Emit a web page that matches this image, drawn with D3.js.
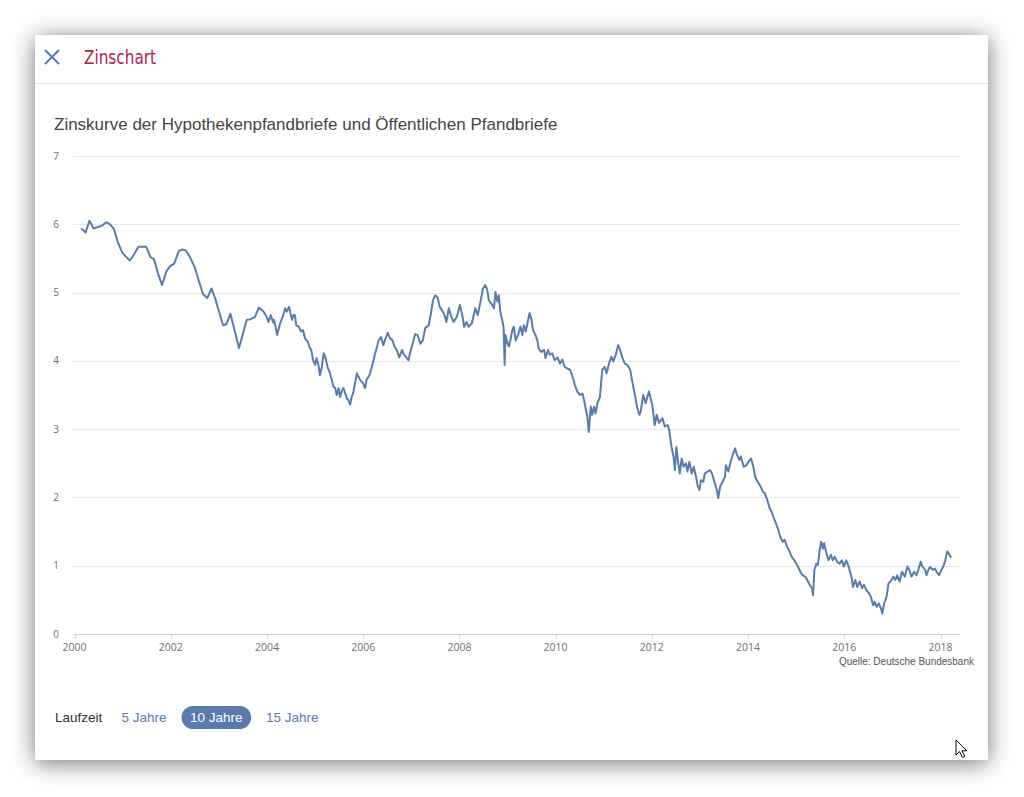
<!DOCTYPE html>
<html>
<head>
<meta charset="utf-8">
<script src="https://cdn.jsdelivr.net/npm/d3@7"></script>
<style>
body { margin: 0; width: 1024px; height: 797px; background: #fff; overflow: hidden; position: relative; }
#card { position: absolute; left: 35px; top: 35px; width: 953px; height: 725px; background: #fff; box-shadow: 0 3px 22px rgba(0,0,0,0.55); }
svg { position: absolute; left: 0; top: 0; }
</style>
</head>
<body>
<div id="card"></div>
<script>
// 10 Jahre Pfandbriefe, [Jahr, Zins %]
var rates2000to2003 = [
	[2000.14,5.94],[2000.23,5.88],[2000.31,6.05],[2000.40,5.94],[2000.49,5.96],[2000.57,5.98],[2000.66,6.03],[2000.74,6.00],
	[2000.82,5.93],[2000.90,5.74],[2000.99,5.59],[2001.06,5.53],[2001.15,5.47],[2001.23,5.55],[2001.33,5.67],[2001.49,5.67],
	[2001.58,5.52],[2001.65,5.49],[2001.74,5.27],[2001.82,5.11],[2001.91,5.31],[2001.99,5.39],[2002.07,5.42],[2002.17,5.61],
	[2002.24,5.63],[2002.31,5.62],[2002.40,5.52],[2002.50,5.37],[2002.58,5.18],[2002.67,4.98],[2002.76,4.92],[2002.85,5.06],
	[2002.93,4.90],[2003.00,4.73],[2003.09,4.52],[2003.16,4.54],[2003.24,4.69],[2003.33,4.44],[2003.42,4.19],[2003.49,4.37],
	[2003.58,4.60],[2003.66,4.61],[2003.75,4.64],[2003.83,4.78],[2003.92,4.73]
];
var rates2004to2007 = [
	[2003.99,4.65],[2004.03,4.57],[2004.08,4.67],[2004.13,4.56],[2004.15,4.60],[2004.21,4.38],[2004.27,4.54],[2004.33,4.65],
	[2004.38,4.77],[2004.41,4.72],[2004.46,4.79],[2004.52,4.60],[2004.55,4.67],[2004.58,4.67],[2004.61,4.52],[2004.66,4.50],
	[2004.71,4.43],[2004.75,4.45],[2004.79,4.33],[2004.85,4.28],[2004.88,4.21],[2004.92,4.16],[2004.96,4.01],[2005.00,3.94],
	[2005.03,4.04],[2005.07,3.94],[2005.10,3.79],[2005.14,3.91],[2005.18,4.11],[2005.22,4.04],[2005.26,3.91],[2005.30,3.84],
	[2005.35,3.72],[2005.38,3.62],[2005.42,3.60],[2005.45,3.50],[2005.49,3.60],[2005.52,3.47],[2005.56,3.57],[2005.59,3.60],
	[2005.63,3.52],[2005.66,3.45],[2005.69,3.43],[2005.73,3.36],[2005.76,3.47],[2005.80,3.55],[2005.83,3.67],[2005.87,3.82],
	[2005.90,3.77],[2005.94,3.72],[2005.97,3.69],[2006.00,3.67],[2006.04,3.60],[2006.07,3.72],[2006.13,3.79],[2006.18,3.91],
	[2006.25,4.11],[2006.29,4.21],[2006.32,4.30],[2006.37,4.35],[2006.42,4.23],[2006.46,4.32],[2006.51,4.41],[2006.56,4.33],
	[2006.61,4.30],[2006.65,4.21],[2006.70,4.16],[2006.75,4.05],[2006.81,4.16],[2006.84,4.10],[2006.90,4.05],[2006.94,4.01],
	[2006.99,4.16],[2007.04,4.28],[2007.08,4.39],[2007.13,4.38],[2007.19,4.25],[2007.24,4.30],[2007.29,4.48],[2007.36,4.52],
	[2007.41,4.70],[2007.45,4.89],[2007.50,4.96],[2007.55,4.92],[2007.59,4.79],[2007.64,4.74],[2007.69,4.67],[2007.73,4.57],
	[2007.78,4.77],[2007.83,4.65],[2007.88,4.57],[2007.95,4.65]
];
var rates2008to2011 = [
	[2008.01,4.82],[2008.06,4.67],[2008.10,4.50],[2008.15,4.57],[2008.19,4.50],[2008.26,4.55],[2008.33,4.77],[2008.38,4.67],
	[2008.44,4.87],[2008.49,5.06],[2008.54,5.11],[2008.58,5.04],[2008.61,4.89],[2008.68,4.82],[2008.72,4.77],[2008.75,5.01],
	[2008.79,4.87],[2008.82,4.96],[2008.85,4.72],[2008.89,4.60],[2008.92,4.48],[2008.94,3.94],[2008.96,4.38],[2008.99,4.28],
	[2009.03,4.21],[2009.06,4.30],[2009.10,4.45],[2009.13,4.50],[2009.17,4.30],[2009.22,4.38],[2009.27,4.50],[2009.31,4.38],
	[2009.34,4.52],[2009.38,4.43],[2009.42,4.57],[2009.46,4.70],[2009.50,4.60],[2009.53,4.45],[2009.58,4.38],[2009.62,4.30],
	[2009.65,4.18],[2009.70,4.13],[2009.76,4.16],[2009.79,4.04],[2009.84,4.16],[2009.88,4.09],[2009.93,4.11],[2009.98,4.01],
	[2010.04,4.05],[2010.09,3.96],[2010.14,4.02],[2010.19,3.91],[2010.24,3.89],[2010.30,3.87],[2010.35,3.77],[2010.40,3.65],
	[2010.45,3.55],[2010.51,3.50],[2010.56,3.52],[2010.59,3.43],[2010.63,3.28],[2010.66,3.18],[2010.69,2.96],[2010.73,3.33],
	[2010.76,3.21],[2010.80,3.33],[2010.83,3.23],[2010.87,3.38],[2010.92,3.47],[2010.97,3.87],[2011.02,3.91],[2011.06,3.82],
	[2011.11,3.96],[2011.16,4.06],[2011.20,3.99],[2011.25,4.09],[2011.30,4.23],[2011.34,4.16],[2011.39,4.04],[2011.44,3.96],
	[2011.49,3.94],[2011.55,3.87],[2011.60,3.67],[2011.65,3.50],[2011.69,3.33],[2011.74,3.21],[2011.77,3.26],[2011.82,3.50],
	[2011.87,3.38],[2011.94,3.55]
];
var rates2012to2018 = [
	[2012.01,3.35],[2012.06,3.06],[2012.10,3.21],[2012.15,3.09],[2012.22,3.16],[2012.27,3.04],[2012.33,3.06],[2012.36,2.99],
	[2012.41,2.74],[2012.45,2.60],[2012.48,2.40],[2012.51,2.74],[2012.55,2.50],[2012.58,2.35],[2012.62,2.57],[2012.66,2.45],
	[2012.71,2.50],[2012.74,2.38],[2012.78,2.52],[2012.83,2.35],[2012.87,2.45],[2012.92,2.30],[2012.95,2.18],[2012.99,2.11],
	[2013.02,2.25],[2013.07,2.23],[2013.10,2.35],[2013.16,2.38],[2013.21,2.40],[2013.25,2.35],[2013.30,2.23],[2013.35,2.11],
	[2013.38,1.99],[2013.42,2.16],[2013.47,2.23],[2013.52,2.30],[2013.54,2.47],[2013.59,2.38],[2013.63,2.50],[2013.68,2.62],
	[2013.73,2.72],[2013.77,2.62],[2013.82,2.55],[2013.85,2.60],[2013.91,2.45],[2013.96,2.47],[2014.01,2.52],[2014.06,2.57],
	[2014.11,2.45],[2014.15,2.30],[2014.20,2.23],[2014.26,2.16],[2014.31,2.08],[2014.35,2.06],[2014.40,1.96],[2014.45,1.84],
	[2014.49,1.79],[2014.54,1.69],[2014.58,1.62],[2014.63,1.52],[2014.67,1.42],[2014.72,1.35],[2014.76,1.38],[2014.81,1.28],
	[2014.86,1.21],[2014.91,1.13],[2014.96,1.08],[2015.02,1.01],[2015.07,0.94],[2015.10,0.89],[2015.14,0.86],[2015.19,0.84],
	[2015.23,0.79],[2015.28,0.72],[2015.33,0.67],[2015.35,0.57],[2015.38,0.94],[2015.42,1.03],[2015.45,1.01],[2015.49,1.23],
	[2015.52,1.35],[2015.56,1.25],[2015.58,1.33],[2015.63,1.18],[2015.67,1.08],[2015.72,1.16],[2015.76,1.08],[2015.80,1.13],
	[2015.85,1.06],[2015.90,1.03],[2015.95,1.08],[2015.99,0.99],[2016.04,1.08],[2016.09,0.99],[2016.15,0.84],[2016.18,0.69],
	[2016.23,0.79],[2016.27,0.69],[2016.32,0.77],[2016.37,0.67],[2016.41,0.72],[2016.46,0.64],[2016.51,0.60],[2016.55,0.55],
	[2016.60,0.42],[2016.63,0.47],[2016.67,0.40],[2016.72,0.45],[2016.76,0.38],[2016.79,0.30],[2016.83,0.45],[2016.88,0.55],
	[2016.92,0.74],[2016.98,0.79],[2017.02,0.84],[2017.06,0.79],[2017.10,0.86],[2017.15,0.77],[2017.20,0.91],[2017.26,0.84],
	[2017.31,0.99],[2017.35,0.94],[2017.40,0.84],[2017.45,0.91],[2017.50,0.86],[2017.54,0.94],[2017.59,1.06],[2017.62,0.99],
	[2017.68,0.94],[2017.71,0.86],[2017.76,0.96],[2017.79,0.98],[2017.84,0.94],[2017.88,0.96],[2017.92,0.91],[2017.97,0.86],
	[2018.02,0.94],[2018.06,0.99],[2018.10,1.08],[2018.14,1.21],[2018.17,1.18],[2018.21,1.13],[2018.23,1.12]
];

var yTicks = [0, 1, 2, 3, 4, 5, 6, 7];
var xTicks = [2000, 2002, 2004, 2006, 2008, 2010, 2012, 2014, 2016, 2018];
var laufzeiten = ["5 Jahre", "10 Jahre", "15 Jahre"];
var selected = "10 Jahre";

var blue = "#587cad", grey = "#707070";

var svg = d3.select("body").append("svg").attr("width", 1024).attr("height", 797);

// header
svg.append("path").attr("d", "M45,50L59,64M59,50L45,64")
	.attr("stroke", blue).attr("stroke-width", 2).attr("fill", "none");
svg.append("text").attr("x", 84).attr("y", 64)
	.attr("font-family", "DejaVu Sans Condensed, DejaVu Sans, sans-serif").attr("font-size", 19)
	.attr("textLength", 72).attr("lengthAdjust", "spacingAndGlyphs")
	.attr("fill", "#b2234a").text("Zinschart");
svg.append("line").attr("x1", 35).attr("x2", 988).attr("y1", 83.5).attr("y2", 83.5)
	.attr("stroke", "#e2e2e2");

svg.append("text").attr("x", 54).attr("y", 129.5)
	.attr("font-family", "Liberation Sans, Arial, sans-serif").attr("font-size", 17)
	.attr("fill", "#444").text("Zinskurve der Hypothekenpfandbriefe und Öffentlichen Pfandbriefe");

// chart
var x = d3.scaleLinear().domain([2000, 2018]).range([74.5, 940.5]);
var y = d3.scaleLinear().domain([0, 7]).range([634, 156]);
var left = 73, right = 960;

var g = svg.append("g").attr("font-family", "Open Sans, sans-serif").attr("font-size", 10);

g.selectAll(".grid").data(yTicks.filter(function(d) { return d > 0; })).enter().append("line")
	.attr("x1", left).attr("x2", right)
	.attr("y1", function(d) { return Math.round(y(d)) + 0.5; })
	.attr("y2", function(d) { return Math.round(y(d)) + 0.5; })
	.attr("stroke", "#e8e8e8");

g.selectAll(".ylab").data(yTicks).enter().append("text")
	.attr("x", 59).attr("y", function(d) { return y(d) + 3.5; })
	.attr("text-anchor", "end").attr("fill", grey).text(function(d) { return d; });

g.append("line").attr("x1", left).attr("x2", right).attr("y1", 634.5).attr("y2", 634.5)
	.attr("stroke", "#ccd6eb");
g.selectAll(".tick").data(xTicks).enter().append("line")
	.attr("x1", function(d) { return Math.round(x(d)) + 0.5; })
	.attr("x2", function(d) { return Math.round(x(d)) + 0.5; })
	.attr("y1", 634).attr("y2", 639).attr("stroke", "#ccd6eb");
g.selectAll(".xlab").data(xTicks).enter().append("text")
	.attr("x", function(d) { return x(d); }).attr("y", 651)
	.attr("text-anchor", "middle").attr("fill", grey).attr("font-size", 10.5)
	.text(function(d) { return d; });

var series = rates2000to2003.concat(rates2004to2007, rates2008to2011, rates2012to2018);
var line = d3.line().x(function(d) { return x(d[0]); }).y(function(d) { return y(d[1]); });
svg.append("path").datum(series).attr("d", line)
	.attr("fill", "none").attr("stroke", blue).attr("stroke-width", 2).attr("stroke-linejoin", "round");

svg.append("text").attr("x", 974).attr("y", 665).attr("text-anchor", "end")
	.attr("font-family", "Liberation Sans, Arial, sans-serif").attr("font-size", 10)
	.attr("fill", "#555").text("Quelle: Deutsche Bundesbank");

// Laufzeit buttons
var bar = svg.append("g").attr("font-family", "Liberation Sans, Arial, sans-serif").attr("font-size", 13.5);
bar.append("text").attr("x", 55).attr("y", 722).attr("fill", "#333").text("Laufzeit");
var bx = 113;
laufzeiten.forEach(function(l) {
	var t = bar.append("text").attr("y", 722).text(l);
	var w = t.node().getComputedTextLength();
	if (l == selected) {
		bar.insert("rect", "text").attr("x", bx).attr("y", 706).attr("width", w + 17).attr("height", 23)
			.attr("rx", 11.5).attr("fill", "#5a7aab");
		t.attr("fill", "#fff");
	} else {
		t.attr("fill", blue);
	}
	t.attr("x", bx + 8.5);
	bx += w + 17 + 6.5;
});

// mouse cursor
svg.append("path").attr("transform", "translate(956,740)")
	.attr("d", "M0,0L0,15L3.5,11.5L6.5,17.5L8.8,16.5L6,10.8L10.8,10.8Z")
	.attr("fill", "#fff").attr("stroke", "#000").attr("stroke-width", 1);
</script>
</body>
</html>
